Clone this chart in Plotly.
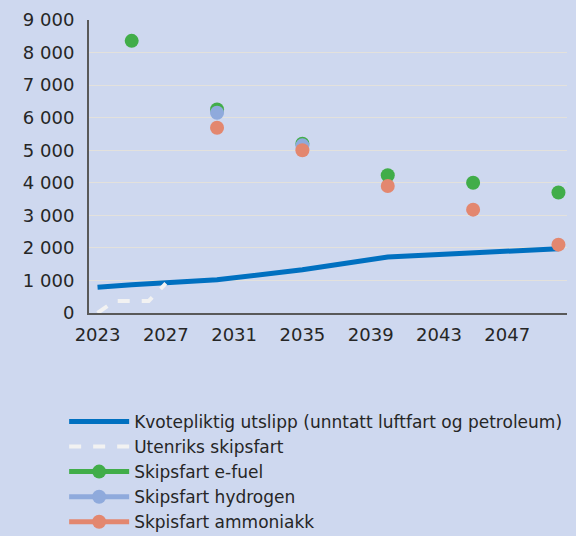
import plotly.graph_objects as go

# Data
blue_years = [2023, 2025, 2030, 2035, 2040, 2045, 2050]
blue_vals = [790, 870, 1020, 1330, 1720, 1850, 1975]

dash_years = [2023, 2024, 2026, 2027]
dash_vals = [0, 370, 370, 910]

efuel_years = [2025, 2030, 2035, 2040, 2045, 2050]
efuel_vals = [8360, 6250, 5200, 4230, 4000, 3700]

hydrogen_years = [2030, 2035]
hydrogen_vals = [6150, 5150]

ammonia_years = [2030, 2035, 2040, 2045, 2050]
ammonia_vals = [5690, 5000, 3900, 3175, 2100]

y_tickvals = [0, 1000, 2000, 3000, 4000, 5000, 6000, 7000, 8000, 9000]
y_ticktext = ["0", "1 000", "2 000", "3 000", "4 000", "5 000", "6 000", "7 000", "8 000", "9 000"]
x_tickvals = [2023, 2027, 2031, 2035, 2039, 2043, 2047]

names = ["Kvotepliktig utslipp (unntatt luftfart og petroleum)", "Utenriks skipsfart",
         "Skipsfart e-fuel", "Skipsfart hydrogen", "Skpisfart ammoniakk"]

BLUE = "#0070C0"
WHITE = "#F2F2F2"
GREEN = "#41AD49"
HYD = "#8FAADC"
AMM = "#E3876F"
BG = "#CED8EF"

fig = go.Figure()
fig.add_trace(go.Scatter(x=blue_years, y=blue_vals, mode="lines", name=names[0],
                         line=dict(color=BLUE, width=5)))
fig.add_trace(go.Scatter(x=dash_years, y=dash_vals, mode="lines", name=names[1],
                         line=dict(color=WHITE, width=4, dash="dash")))

for yrs, vals, col, nm in [(efuel_years, efuel_vals, GREEN, names[2]),
                           (hydrogen_years, hydrogen_vals, HYD, names[3]),
                           (ammonia_years, ammonia_vals, AMM, names[4])]:
    fig.add_trace(go.Scatter(x=yrs, y=vals, mode="markers", name=nm, showlegend=False,
                             marker=dict(color=col, size=14)))

# legend-only entries (line + marker symbol as in reference)
for col, nm in [(GREEN, names[2]), (HYD, names[3]), (AMM, names[4])]:
    fig.add_trace(go.Scatter(x=[None], y=[None], mode="lines+markers", name=nm,
                             line=dict(color=col, width=5), marker=dict(color=col, size=14)))

fig.update_layout(
    width=576, height=536,
    paper_bgcolor=BG, plot_bgcolor=BG,
    margin=dict(l=89, r=9, t=20, b=223, autoexpand=False),
    font=dict(family="DejaVu Sans", size=18, color="#262626"),
    showlegend=True,
    legend=dict(x=-0.052, y=-0.31,
                xanchor="left", yanchor="top", bgcolor="rgba(0,0,0,0)",
                font=dict(size=17), itemwidth=60, tracegroupgap=0),
)
fig.update_xaxes(range=[2022.5, 2050.5], tickvals=x_tickvals, showgrid=False,
                 showline=True, linecolor="#595959", linewidth=2,
                 ticks="outside", ticklen=4, tickcolor="rgba(0,0,0,0)", zeroline=False,
                 automargin=False)
fig.update_yaxes(range=[0, 9000], tickvals=y_tickvals, ticktext=y_ticktext,
                 showgrid=True, gridcolor="#E3E1DC", gridwidth=1,
                 showline=True, linecolor="#595959", linewidth=2,
                 ticks="outside", ticklen=9, tickcolor="rgba(0,0,0,0)", zeroline=False,
                 automargin=False)

fig.write_html("out.html", config={"displayModeBar": False},
               post_script="document.body.style.margin='0';")
